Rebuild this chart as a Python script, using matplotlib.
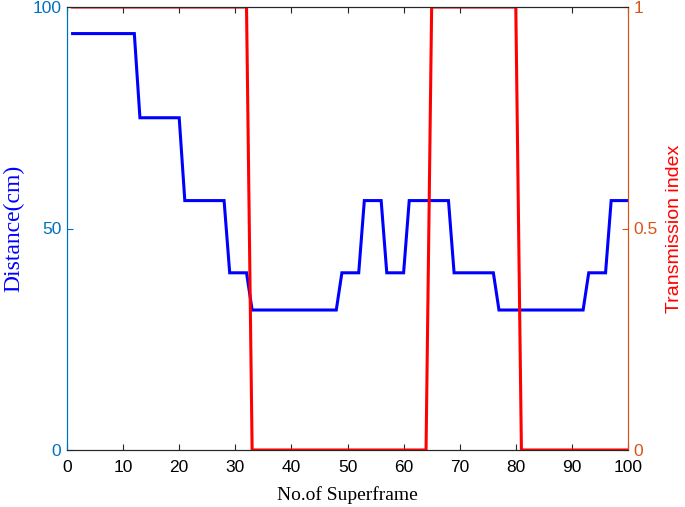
import matplotlib.pyplot as plt

# ---- data ----
# Distance (cm) step profile, breakpoints
dist_x = [1, 12, 13, 20, 21, 28, 29, 32, 33, 48, 49, 52, 53, 56, 57, 60, 61,
          68, 69, 76, 77, 92, 93, 96, 97, 100]
dist_y = [94, 94, 75, 75, 56.3, 56.3, 40, 40, 31.6, 31.6, 40, 40, 56.3, 56.3,
          40, 40, 56.3, 56.3, 40, 40, 31.6, 31.6, 40, 40, 56.3, 56.3]

# Transmission index, breakpoints
tx_x = [1, 32, 33, 64, 65, 80, 81, 100]
tx_y = [1, 1, 0, 0, 1, 1, 0, 0]

x_ticks = [0, 10, 20, 30, 40, 50, 60, 70, 80, 90, 100]
left_ticks = [0, 50, 100]
right_ticks = [0, 0.5, 1]
right_tick_labels = ['0', '0.5', '1']

left_col = '#0072BD'
right_col = '#D95319'
axis_grey = '#262626'

plt.rcParams['font.family'] = ['Liberation Sans', 'DejaVu Sans']

fig = plt.figure(figsize=(6.85, 5.07), dpi=100)
ax = fig.add_axes([67 / 685, 57 / 507, 561 / 685, 443 / 507])
ax2 = ax.twinx()

ax.plot(dist_x, dist_y, color='#0000FF', lw=2.2, solid_joinstyle='miter')
ax2.plot(tx_x, tx_y, color='#FF0000', lw=2.2, solid_joinstyle='miter')

ax.set_xlim(0, 100)
ax.set_ylim(0, 100)
ax2.set_ylim(0, 1)

ax.set_xticks(x_ticks)
ax.set_yticks(left_ticks)
ax2.set_yticks(right_ticks)
ax2.set_yticklabels(right_tick_labels)

# MATLAB-like axes
ax.tick_params(axis='x', direction='in', length=4, width=0.8, colors=axis_grey,
               labelcolor='black', labelsize=12.5, top=True, pad=7)
ax.tick_params(axis='y', direction='in', length=4, width=0.8, colors=left_col,
               labelsize=12.5, pad=4)
ax2.tick_params(axis='y', direction='in', length=4, width=0.8, colors=right_col,
                labelsize=12.5, pad=4)

for a in (ax, ax2):
    a.spines['top'].set_color(axis_grey)
    a.spines['bottom'].set_color(axis_grey)
    a.spines['left'].set_color(left_col)
    a.spines['right'].set_color(right_col)
    for s in a.spines.values():
        s.set_linewidth(0.8)

ax.set_xlabel('No.of Superframe', family='Liberation Serif', fontsize=14,
              color='black', labelpad=8)
ax.set_ylabel('Distance(cm)', family='Liberation Serif', fontsize=17,
              color='#0000FF', labelpad=6)
ax2.set_ylabel('Transmission index', fontsize=14, color='#FF0000',
               rotation=90, labelpad=6)

plt.savefig('out.png', dpi=100)
